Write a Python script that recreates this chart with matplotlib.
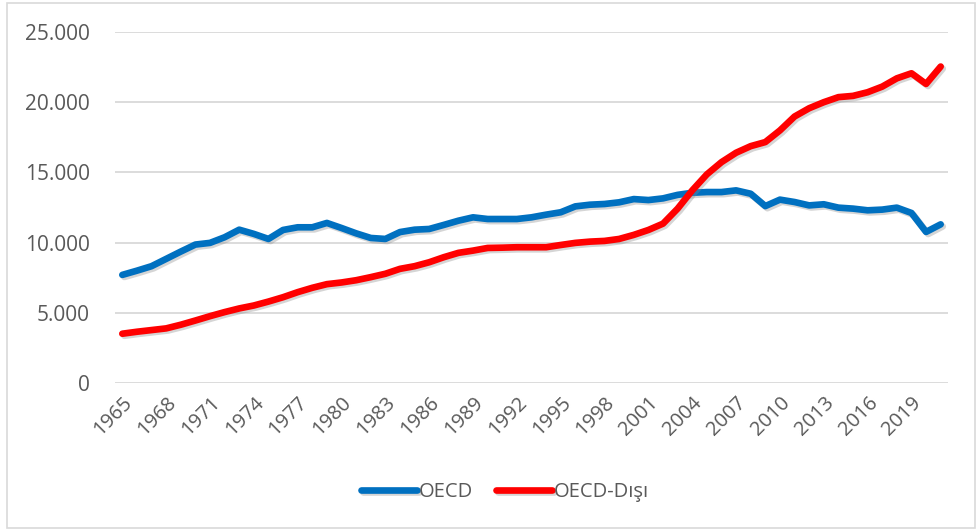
import matplotlib
matplotlib.use("Agg")
import matplotlib.pyplot as plt
import matplotlib.patheffects as pe
from matplotlib.patches import Rectangle
from matplotlib.ticker import FuncFormatter, FixedLocator

years = list(range(1965, 2022))
oecd = [7.70, 8.00, 8.32, 8.84, 9.36, 9.86, 9.98, 10.38, 10.92, 10.62,
        10.26, 10.90, 11.09, 11.09, 11.40, 11.04, 10.66, 10.33, 10.26, 10.75,
        10.92, 10.97, 11.26, 11.56, 11.80, 11.68, 11.68, 11.68, 11.80, 11.99,
        12.16, 12.58, 12.70, 12.75, 12.87, 13.10, 13.03, 13.15, 13.40, 13.55,
        13.60, 13.60, 13.72, 13.48, 12.60, 13.06, 12.89, 12.65, 12.73, 12.49,
        12.42, 12.30, 12.35, 12.49, 12.11, 10.76, 11.30]
non_oecd = [3.51, 3.65, 3.77, 3.89, 4.15, 4.45, 4.76, 5.05, 5.31, 5.52,
            5.80, 6.11, 6.47, 6.78, 7.04, 7.16, 7.32, 7.54, 7.78, 8.13,
            8.32, 8.60, 8.96, 9.27, 9.43, 9.62, 9.64, 9.67, 9.67, 9.67,
            9.83, 9.98, 10.07, 10.12, 10.26, 10.55, 10.90, 11.35, 12.42, 13.72,
            14.86, 15.73, 16.40, 16.87, 17.16, 17.99, 18.98, 19.57, 20.00, 20.36,
            20.45, 20.71, 21.11, 21.70, 22.06, 21.30, 22.54]
oecd = [v * 1000 for v in oecd]
non_oecd = [v * 1000 for v in non_oecd]
series_names = ["OECD", "OECD-Dışı"]
y_ticks = [0, 5000, 10000, 15000, 20000, 25000]
x_ticks = list(range(1965, 2020, 3))

plt.rcParams['font.family'] = ['Open Sans', 'DejaVu Sans']
text_color = '#595959'

fig = plt.figure(figsize=(9.79, 5.31), dpi=100)
ax = fig.add_axes([115/979, 1-383/531, (948-115)/979, (383-32)/531])

shadow = [pe.SimpleLineShadow(offset=(1.5, -1.5), shadow_color='#888888', alpha=0.35),
          pe.Normal()]
ax.plot(years, oecd, color='#0070C0', lw=4.8, solid_capstyle='round',
        solid_joinstyle='round', label=series_names[0], path_effects=shadow, zorder=3)
ax.plot(years, non_oecd, color='#FF0000', lw=4.8, solid_capstyle='round',
        solid_joinstyle='round', label=series_names[1], path_effects=shadow, zorder=3)

ax.set_xlim(1964.5, 2021.5)
ax.set_ylim(0, 25000)
ax.yaxis.set_major_locator(FixedLocator(y_ticks))
ax.yaxis.set_major_formatter(FuncFormatter(lambda v, p: f"{int(v):,}".replace(",", ".")))
ax.xaxis.set_major_locator(FixedLocator(x_ticks))
ax.set_xticklabels([str(y) for y in x_ticks], rotation=45, ha='right',
                   rotation_mode='anchor')
ax.grid(axis='y', color='#D9D9D9', lw=1.3, zorder=0)
for s in ax.spines.values():
    s.set_visible(False)
ax.tick_params(axis='both', length=0, labelsize=14.5, colors=text_color)
ax.tick_params(axis='y', pad=18, labelsize=15)
ax.tick_params(axis='x', pad=7)

leg = fig.legend(loc='center', bbox_to_anchor=(505/979, 1-492/531), ncol=2, frameon=False,
                 fontsize=14.5, handlelength=2.8, columnspacing=1.1, handletextpad=0.1)
for t in leg.get_texts():
    t.set_color(text_color)

fig.patches.append(Rectangle((7/979, 3/531), 968/979, 525/531, transform=fig.transFigure,
                             fill=False, edgecolor='#D9D9D9', lw=1.2))

fig.savefig('out.png', dpi=100, facecolor='white')
